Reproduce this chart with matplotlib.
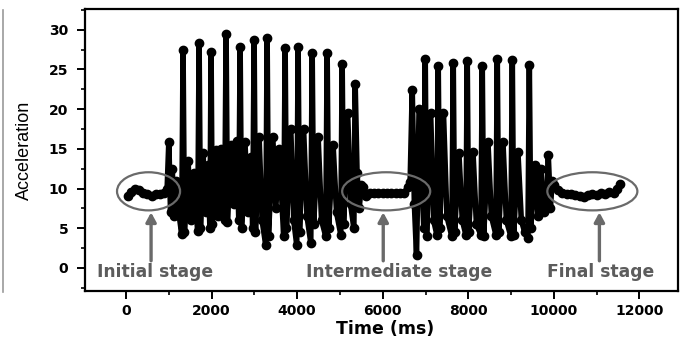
import matplotlib
matplotlib.use("Agg")
import matplotlib.pyplot as plt
from matplotlib.patches import Ellipse
from matplotlib.lines import Line2D
from matplotlib.ticker import MultipleLocator

t_initial = [50, 120, 210, 300, 400, 500, 600, 700, 800, 880, 960]
a_initial = [9.1, 9.6, 10.0, 9.8, 9.4, 9.3, 9.0, 9.3, 9.3, 9.5, 9.9]

t_burst1 = [1000, 1040, 1080, 1120, 1170, 1220,
            1300, 1333, 1365, 1450, 1510, 1580,
            1675, 1708, 1740, 1800, 1860, 1920,
            1960, 1988, 2015, 2100, 2160, 2230,
            2305, 2339, 2370, 2450, 2520, 2590,
            2635, 2667, 2700, 2780, 2850, 2920,
            2960, 2994, 3025, 3110, 3180, 3265,
            3298, 3330, 3430, 3500, 3580, 3685,
            3719, 3750, 3850, 3920, 3990,
            4023, 4055, 4150, 4230, 4318,
            4351, 4385, 4490, 4570, 4668,
            4701, 4735, 4840, 4920, 5020,
            5052, 5085, 5180, 5250, 5325,
            5356, 5400, 5450, 5500]
a_burst1 = [15.9, 7.0, 12.5, 6.5, 11.0, 7.5,
            4.3, 27.5, 4.5, 13.5, 6.0, 12.0,
            4.6, 28.3, 5.0, 14.5, 7.0, 13.0,
            5.0, 27.2, 5.5, 14.8, 6.5, 15.0,
            6.0, 29.4, 5.8, 15.5, 8.0, 16.0,
            6.0, 27.8, 5.0, 15.8, 7.0, 14.0,
            5.0, 28.7, 4.5, 16.5, 6.0, 2.9,
            29.0, 4.0, 16.5, 7.5, 15.0, 4.0,
            27.7, 5.0, 17.5, 6.0, 2.9,
            27.8, 4.5, 17.5, 6.5, 3.2,
            27.1, 5.5, 16.5, 6.0, 4.0,
            27.1, 5.0, 15.5, 7.0, 4.2,
            25.7, 5.5, 19.5, 8.0, 5.0,
            23.2, 12.0, 7.5, 10.5]

t_middle = [5550, 5620, 5700, 5800, 5900, 6000, 6100, 6200, 6300, 6400, 6500, 6600, 6640]
a_middle = [10.2, 9.0, 9.4, 9.5, 9.4, 9.5, 9.4, 9.5, 9.4, 9.5, 9.5, 10.2, 10.8]

t_burst2 = [6690, 6740, 6790, 6850, 6960,
            6994, 7025, 7120, 7190, 7265,
            7298, 7330, 7420, 7500, 7615,
            7649, 7680, 7780, 7860, 7943,
            7976, 8008, 8110, 8190, 8294,
            8327, 8360, 8460, 8540, 8645,
            8678, 8710, 8810, 8890, 8996,
            9029, 9060, 9160, 9240, 9320, 9394,
            9427, 9460, 9560, 9630, 9700, 9760, 9830,
            9870, 9920, 9960]
a_burst2 = [22.4, 8.0, 1.6, 20.0, 5.0,
            26.3, 4.0, 19.5, 6.0, 4.2,
            25.4, 5.0, 19.5, 6.5, 4.0,
            25.8, 4.5, 14.5, 6.0, 4.2,
            26.0, 4.5, 14.6, 5.5, 4.2,
            25.4, 4.0, 15.8, 6.5, 4.2,
            26.3, 4.5, 15.9, 6.0, 4.0,
            26.2, 4.2, 14.6, 6.0, 4.5, 3.8,
            25.6, 5.0, 13.0, 6.5, 12.5, 7.0, 8.0,
            14.2, 7.5, 11.0]

t_final = [10000, 10100, 10200, 10300, 10400, 10500, 10600, 10700, 10800, 10900,
           11000, 11100, 11200, 11300, 11400, 11480, 11550]
a_final = [10.4, 9.8, 9.5, 9.3, 9.3, 9.2, 9.0, 8.9, 9.2, 9.3, 9.2, 9.4, 9.3, 9.6,
           9.5, 10.0, 10.6]

stage_labels = ["Initial stage", "Intermediate stage", "Final stage"]
stage_centers = [526, 6081, 10900]
stage_widths = [1474, 2058, 2105]
arrow_x = [585, 6012, 11065]
label_x = [678, 6386, 11087]

time_ms = t_initial + t_burst1 + t_middle + t_burst2 + t_final
accel = a_initial + a_burst1 + a_middle + a_burst2 + a_final

plt.rcParams["font.family"] = "DejaVu Sans"
gray = "#6a6a6a"

fig = plt.figure(figsize=(6.82, 3.41), dpi=100)
ax = fig.add_axes([0.1246, 0.1466, 0.8694, 0.827])

ax.plot(time_ms, accel, color="black", lw=4, marker="o", ms=6,
        solid_joinstyle="round")

for c, w in zip(stage_centers, stage_widths):
    ax.add_patch(Ellipse((c, 9.65), w, 4.8, fill=False, ec=gray, lw=1.6, zorder=3))

for xa, xl, txt in zip(arrow_x, label_x, stage_labels):
    ax.annotate("", xy=(xa, 7.0), xytext=(xa, 0.9),
                arrowprops=dict(arrowstyle="-|>,head_length=0.55,head_width=0.3",
                                color=gray, lw=2.4, shrinkA=0, shrinkB=0))
    ax.text(xl, -0.55, txt, ha="center", va="center", fontsize=12.3,
            fontweight="bold", color="#5c5c5c")

ax.set_xlim(-960, 12900)
ax.set_ylim(-2.9, 32.6)
ax.xaxis.set_major_locator(MultipleLocator(2000))
ax.xaxis.set_minor_locator(MultipleLocator(1000))
ax.yaxis.set_major_locator(MultipleLocator(5))
ax.yaxis.set_minor_locator(MultipleLocator(2.5))
ax.tick_params(which="major", length=6, width=1.4, pad=3)
ax.tick_params(which="minor", length=3, width=1.2)
ax.tick_params(axis="y", which="major", pad=6)
for lab in ax.get_xticklabels() + ax.get_yticklabels():
    lab.set_fontweight("bold")
    lab.set_fontsize(10)
for s in ax.spines.values():
    s.set_linewidth(1.6)

ax.set_ylabel("Acceleration", family="Liberation Sans", fontsize=13)
ax.yaxis.set_label_coords(-0.088, 0.5)
fig.text(0.565, 0.035, "Time (ms)", ha="center", va="center",
         fontsize=12.5, fontweight="bold")

fig.add_artist(Line2D([0.004, 0.004], [0.144, 0.97], color="#9a9a9a", lw=1.2))

fig.savefig("out.png", dpi=100)
